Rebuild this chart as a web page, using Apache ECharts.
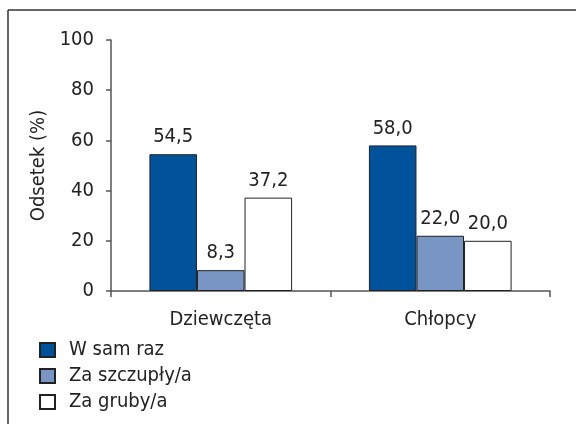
<!DOCTYPE html>
<html>
<head>
<meta charset="utf-8">
<script src="https://cdn.jsdelivr.net/npm/echarts@6/dist/echarts.min.js"></script>
<style>html,body{margin:0;padding:0;background:#fff;overflow:hidden}#c{width:576px;height:424px}</style>
</head>
<body>
<div id="c"></div>
<script>
var categories = ['Dziewczęta', 'Chłopcy'];
var seriesNames = ['W sam raz', 'Za szczupły/a', 'Za gruby/a'];
var wSamRaz = [54.5, 58.0];
var zaSzczuply = [8.3, 22.0];
var zaGruby = [37.2, 20.0];
var yTicks = [0, 20, 40, 60, 80, 100];

var FONT = '"Liberation Sans Narrow", "DejaVu Sans Condensed", "Roboto", sans-serif';
var colors = ['#00539b', '#7995c3', '#ffffff'];
var values = [wSamRaz, zaSzczuply, zaGruby];

var chart = echarts.init(document.getElementById('c'), null, {renderer: 'canvas'});
var series = seriesNames.map(function (n, i) {
  return {
    name: n,
    type: 'bar',
    data: values[i],
    barGap: '0%',
    barCategoryGap: '35%',
    itemStyle: {color: colors[i], borderColor: '#222', borderWidth: 1},
    label: {
      show: true, position: 'top', distance: 7,
      fontFamily: FONT, fontSize: 20, color: '#222',
      formatter: function (p) { return p.value.toFixed(1).replace('.', ','); }
    }
  };
});

chart.setOption({
  animation: false,
  backgroundColor: '#fff',
  graphic: [
    {type: 'line', silent: true, shape: {x1: 8, y1: 10, x2: 576, y2: 10},
     style: {stroke: '#333', lineWidth: 1.5}},
    {type: 'line', silent: true, shape: {x1: 8, y1: 10, x2: 8, y2: 424},
     style: {stroke: '#333', lineWidth: 1.5}}
  ],
  grid: {left: 111, right: 26, top: 40, bottom: 133, containLabel: false},
  legend: {
    orient: 'vertical', left: 34, top: 335,
    itemWidth: 15, itemHeight: 14, itemGap: 6,
    icon: 'rect',
    data: seriesNames,
    textStyle: {fontFamily: FONT, fontSize: 20, color: '#222', padding: [0, 0, 0, 9]}
  },
  xAxis: {
    type: 'category', data: categories,
    axisLine: {lineStyle: {color: '#555', width: 1.5}},
    axisTick: {show: true, length: 6, lineStyle: {color: '#555', width: 1.5}},
    axisLabel: {fontFamily: FONT, fontSize: 20, color: '#222', margin: 19}
  },
  yAxis: {
    type: 'value', min: yTicks[0], max: yTicks[yTicks.length - 1], interval: 20,
    name: 'Odsetek (%)', nameLocation: 'middle', nameGap: 51, nameRotate: 90,
    nameTextStyle: {fontFamily: FONT, fontSize: 20, color: '#222'},
    axisLine: {show: true, lineStyle: {color: '#555', width: 1.5}},
    axisTick: {show: true, length: 5, lineStyle: {color: '#555', width: 1.5}},
    axisLabel: {fontFamily: FONT, fontSize: 20, color: '#222', margin: 17},
    splitLine: {show: false}
  },
  series: series
});
</script>
</body>
</html>
